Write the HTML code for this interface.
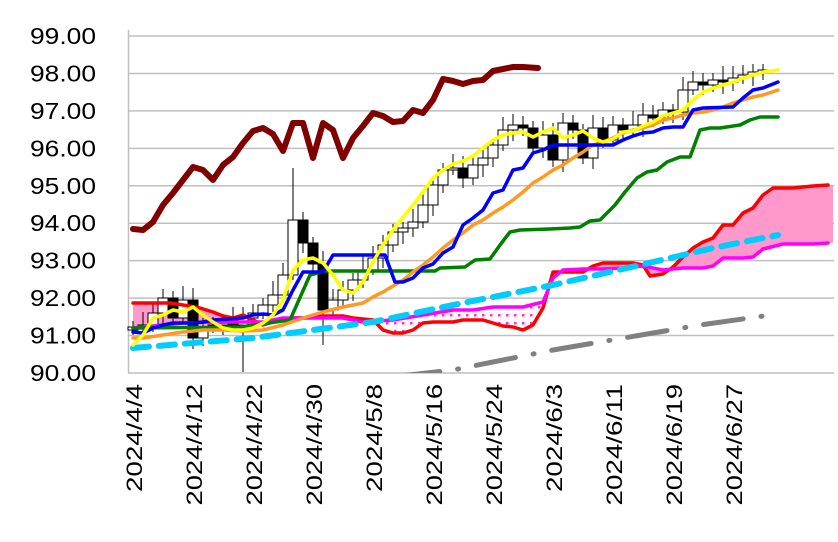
<!DOCTYPE html>
<html><head><meta charset="utf-8"><style>
body{margin:0;background:#fff;width:838px;height:542px;overflow:hidden}
svg{display:block}
text{font-family:"Liberation Sans",sans-serif;fill:#000}
</style></head><body>
<svg id="s" width="838" height="542" xmlns="http://www.w3.org/2000/svg">
<defs>
<pattern id="dots" width="8" height="8" patternUnits="userSpaceOnUse"><rect width="8" height="8" fill="#fff"/><rect x="2" y="2" width="2.5" height="2.5" fill="#ff33cc"/></pattern>
<clipPath id="plot"><rect x="128" y="30" width="710" height="343"/></clipPath>
<clipPath id="dotc"><rect x="378" y="0" width="168" height="400"/></clipPath>
<clipPath id="solidc"><rect x="0" y="0" width="378" height="400"/><rect x="546" y="0" width="300" height="400"/></clipPath>
</defs>
<g id="grid"></g>
<g id="cloud"></g>
<g id="candles"></g>
<g id="lines" clip-path="url(#plot)"></g>
<g id="labels"></g>
</svg>
<script>
const NS="http://www.w3.org/2000/svg";
function el(p,t,a,txt){const e=document.createElementNS(NS,t);for(const k in a)e.setAttribute(k,a[k]);if(txt!==undefined)e.textContent=txt;document.getElementById(p).appendChild(e);return e;}
for(let i=0;i<10;i++){const y=36+i*(337/9);el("grid","line",{x1:128,x2:834,y1:y,y2:y,stroke:"#bfbfbf","stroke-width":1.5});
el("labels","text",{x:96,y:y+8,"text-anchor":"end","font-size":23,textLength:66,lengthAdjust:"spacingAndGlyphs"},(99-i).toFixed(2));}
el("grid","line",{x1:128.5,x2:128.5,y1:30,y2:373,stroke:"#bfbfbf","stroke-width":1.5});
const dates=["2024/4/4","2024/4/12","2024/4/22","2024/4/30","2024/5/8","2024/5/16","2024/5/24","2024/6/3","2024/6/11","2024/6/19","2024/6/27"];
dates.forEach((d,i)=>{const x=133+i*60+9;el("labels","text",{x:0,y:0,"font-size":22,"text-anchor":"end",textLength:d.length*13.5,lengthAdjust:"spacingAndGlyphs",transform:`translate(${x},384) rotate(-90)`},d);});
const P=s=>s.trim().split(/\s+/).map(p=>p.split(":").map(Number));
const path=pts=>"M"+pts.map(p=>p.join(",")).join("L");
const red=P("133:303 170:303 183:305 200:308 213:312 223:316 233:318 243:315 253:320 263:325 273:322 283:320 293:318 303:318 323:316 343:316 353:318 373:320 383:330 393:333 403:333 413:330 423:323 433:322 443:322 453:322 463:320 473:320 483:320 493:323 503:326 513:327 523:330 533:325 543:308 553:272 563:272 583:272 593:266 603:263 623:263 633:263 643:265 650:276 663:274 673:267 683:257 693:248 703:242 713:238 723:225 733:225 743:213 753:208 763:195 773:188 793:188 813:186 828:185");
const mag=P("133:328 183:323 233:322 263:322 283:318 303:318 323:318 343:318 363:322 393:320 423:315 453:310 473:310 493:307 523:307 543:302 553:278 563:270 583:269 603:269 623:268 643:266 663:270 683:268 703:268 713:266 723:258 743:258 753:257 763:249 783:244 813:244 828:243");
const poly=path(red)+"L833,185L833,243"+mag.slice().reverse().map(p=>"L"+p.join(",")).join("")+"Z";
el("cloud","path",{d:poly,fill:"#ff99cc","clip-path":"url(#solidc)"});
el("cloud","path",{d:poly,fill:"url(#dots)","clip-path":"url(#dotc)"});
const C=[327,325,313,298,318,300,338,328,325,320,325,318,313,305,295,275,220,243,264,310,300,290,280,270,258,245,232,228,222,205,185,170,168,178,165,158,145,130,125,128,148,135,160,123,130,158,128,140,125,130,125,115,118,110,112,90,82,85,80,82,78,75,72,70];
let o=330;
C.forEach((c,i)=>{const x=133+i*10;const top=Math.min(o,c),bot=Math.max(o,c);const hi=top-6-((i*7)%9),lo=bot+5+((i*5)%8);
el("candles","line",{x1:x,x2:x,y1:(i==16?168:hi),y2:(i==19?345:(i==11?372:lo)),stroke:"#000","stroke-width":1});
el("candles","rect",{x:x-5,y:top,width:10,height:Math.max(bot-top,1.5),fill:c>o?"#000":"#fff",stroke:"#000","stroke-width":1});
o=c;});
function line(s,col,w,dash){const a={d:path(P(s)),fill:"none",stroke:col,"stroke-width":w,"stroke-linejoin":"round","stroke-linecap":"round"};if(dash)a["stroke-dasharray"]=dash;el("lines","path",a);}
line("400:376 453:370 553:350 653:333 700:325 778:314","#808080",5,"40 18 1 18");
line(path(red).slice(1).replace(/L/g," ").replace(/,/g,":"),"#ff0000",3.5);
line(path(mag).slice(1).replace(/L/g," ").replace(/,/g,":"),"#ff00ff",3.5);
line("133:348 253:338 373:322 453:305 553:285 653:262 713:248 778:235","#00ccff",6,"16 10");
line("133:328 240:327 290:320 310:275 325:271 435:271 440:268 465:267 475:260 490:259 500:245 510:232 520:230 550:229 570:228 580:227 590:221 600:220 615:205 625:192 637:178 647:172 657:170 667:162 680:157 690:157 700:130 710:128 720:128 740:125 750:120 760:117 778:117","#008000",3.5);
line("133:338 143:338 163:335 183:332 203:330 223:330 243:331 263:330 283:325 303:318 313:315 323:312 343:307 363:303 373:297 383:292 393:286 403:280 413:272 423:265 433:257 443:248 453:240 463:233 473:225 483:220 493:213 503:207 513:200 523:192 533:183 543:177 553:170 563:165 573:158 583:152 593:145 603:142 613:138 623:133 633:130 643:128 653:125 663:120 673:118 683:115 693:113 703:112 713:110 723:107 733:103 743:100 753:97 763:95 778:90","#ff9922",3.5);
line("133:332 143:333 153:328 163:325 173:323 193:323 203:322 213:320 243:318 253:315 263:314 273:315 283:310 293:290 303:272 323:272 333:255 385:255 395:282 403:282 413:278 423:268 433:264 443:253 453:247 463:225 473:218 483:210 493:193 503:190 513:170 523:168 533:153 543:150 553:145 613:145 623:140 633:136 643:133 653:132 663:128 673:127 683:127 693:110 703:108 733:107 743:98 753:90 763:88 778:82","#0000ff",3.5);
line("133:345 143:335 153:318 163:315 173:310 183:312 193:307 203:315 213:322 223:328 233:330 243:330 253:328 263:323 273:315 283:300 293:270 303:260 313:258 323:263 333:275 343:290 353:293 363:282 373:262 383:245 393:230 403:217 413:205 423:192 433:178 443:170 453:164 463:161 473:156 483:148 493:140 503:135 513:133 523:132 533:137 543:132 553:128 563:138 573:135 583:131 593:138 603:142 613:139 623:132 633:131 643:126 653:122 663:116 673:113 683:110 693:100 703:92 713:88 723:85 733:82 743:78 753:75 763:72 778:70","#ffff00",3.5);
line("133:229 143:230 153:222 163:205 173:193 183:180 193:167 203:170 213:180 223:165 233:157 243:143 253:131 263:128 273:134 283:151 293:123 303:123 313:158 323:123 333:130 343:158 353:138 363:126 373:113 383:116 393:122 403:121 413:110 423:113 433:100 443:79 453:81 463:84 473:81 483:80 493:71 503:69 513:67 523:67 538:68","#800000",6);
</script>
</body></html>
